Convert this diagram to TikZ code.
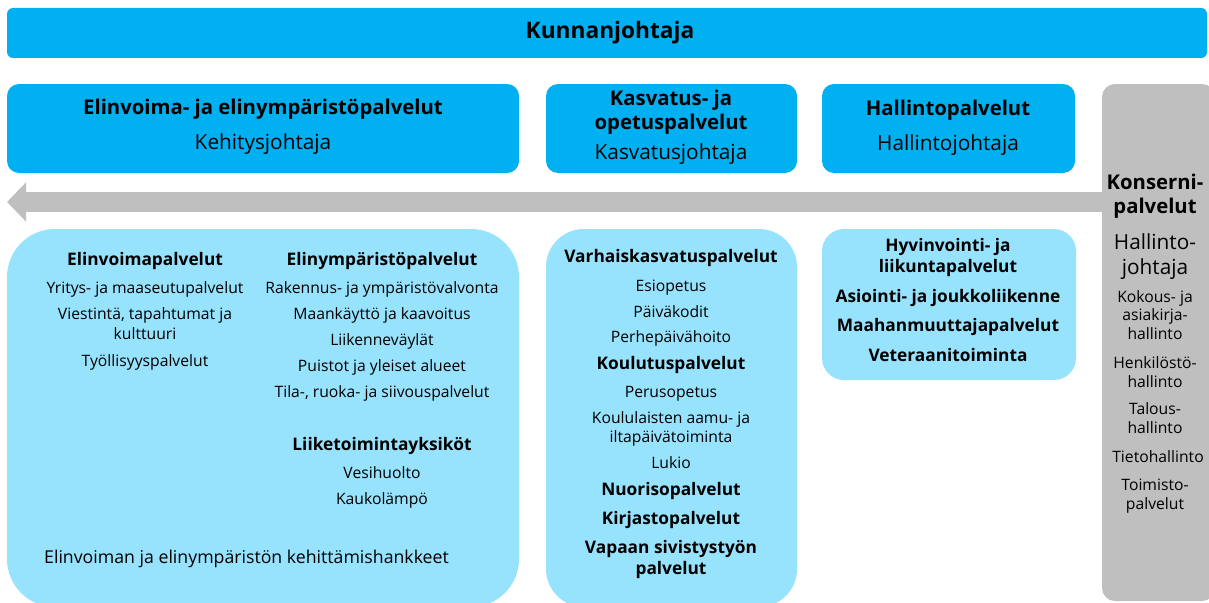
\documentclass[tikz,border=0pt]{standalone}
\usepackage{fontspec}
\setmainfont{Open Sans}
\usetikzlibrary{arrows.meta}
\definecolor{dblue}{HTML}{00B0F0}
\definecolor{lblue}{HTML}{97E2FC}
\definecolor{gbar}{HTML}{BFBFBF}
\begin{document}
\begin{tikzpicture}[x=1pt,y=-1pt,
  box/.style={draw=none,fill=#1,inner sep=0pt,outer sep=0pt},
  txt/.style={align=center,inner sep=0pt,text height=1.08em,text depth=0pt},
  sm/.style={txt,font=\fontsize{15.7}{19}\selectfont},
  smb/.style={txt,font=\fontsize{17.3}{20.5}\selectfont\bfseries},
  big/.style={txt,yshift=-2pt,font=\fontsize{20.8}{25}\selectfont},
  bigb/.style={txt,yshift=-2pt,font=\fontsize{20.3}{24}\selectfont\bfseries},
  graybar/.style={draw=gbar,line width=20pt,-{Triangle[length=19pt,width=38pt]}}
]
\useasboundingbox (0,0) rectangle (1209,602);
\clip (0,0) rectangle (1209,602);
% boxes
\node[box=dblue,rounded corners=6pt,minimum width=1200pt,minimum height=50pt] (top) at (607,33) {};
\node[box=dblue,rounded corners=12pt,minimum width=512pt,minimum height=89pt] (elin) at (263,128.5) {};
\node[box=dblue,rounded corners=12pt,minimum width=251pt,minimum height=89pt] (kasv) at (671.5,128.5) {};
\node[box=dblue,rounded corners=12pt,minimum width=253pt,minimum height=89pt] (hall) at (948.5,128.5) {};
\node[box=gbar,rounded corners=13pt,minimum width=113pt,minimum height=517pt] (kons) at (1158.5,342.5) {};
\node[box=lblue,rounded corners=48pt,minimum width=512pt,minimum height=378pt] (elinL) at (263,418) {};
\node[box=lblue,rounded corners=38pt,minimum width=251pt,minimum height=378pt] (kasvL) at (671.5,418) {};
\node[box=lblue,rounded corners=22pt,minimum width=254pt,minimum height=151pt] (hallL) at (949,304.5) {};
% arrow
\coordinate (tip) at (7,202);
\draw[graybar] (kons.west |- tip) -- (tip);
% top
\node[txt,yshift=-3pt,font=\fontsize{22.7}{26}\selectfont\bfseries] (kj) at (610,30) {Kunnanjohtaja};
% row 2
\node[bigb] (t1) at (263,107) {Elinvoima- ja elinympäristöpalvelut};
\node[big] (t1b) at (263,142) {Kehitysjohtaja};
\node[bigb] (t2) at (671,122) {Kasvatus- ja\\opetuspalvelut};
\node[big] (t2b) at (671,152) {Kasvatusjohtaja};
\node[bigb] (t3) at (948,108) {Hallintopalvelut};
\node[big] (t3b) at (948,143) {Hallintojohtaja};
% konserni
\node[bigb,font=\fontsize{20.3}{23.5}\selectfont\bfseries] (k1) at (1155,206) {Konserni-\\palvelut};
\node[big] (k2) at (1155,267) {Hallinto-\\johtaja};
\node[sm,font=\fontsize{15.7}{18.5}\selectfont] (k3) at (1155,334) {Kokous- ja\\asiakirja-\\hallinto};
\node[sm,font=\fontsize{15.7}{18.5}\selectfont] (k4) at (1155,382) {Henkilöstö-\\hallinto};
\node[sm,font=\fontsize{15.7}{18.5}\selectfont] (k5) at (1155,428) {Talous-\\hallinto};
\node[sm] (k6) at (1158,457) {Tietohallinto};
\node[sm,font=\fontsize{15.7}{18.5}\selectfont] (k7) at (1155,504) {Toimisto-\\palvelut};
% left column
\node[smb] (a1) at (145,260) {Elinvoimapalvelut};
\node[sm] (a2) at (145,288) {Yritys- ja maaseutupalvelut};
\node[sm,font=\fontsize{15.7}{19.5}\selectfont] (a3) at (145,334) {Viestintä, tapahtumat ja\\kulttuuri};
\node[sm] (a4) at (145,361) {Työllisyyspalvelut};
\node[smb] (b1) at (382,260) {Elinympäristöpalvelut};
\node[sm] (b2) at (382,288) {Rakennus- ja ympäristövalvonta};
\node[sm] (b3) at (382,314) {Maankäyttö ja kaavoitus};
\node[sm] (b4) at (382,340) {Liikenneväylät};
\node[sm] (b5) at (382,366) {Puistot ja yleiset alueet};
\node[sm] (b6) at (382,392) {Tila-, ruoka- ja siivouspalvelut};
\node[smb] (b7) at (382,445) {Liiketoimintayksiköt};
\node[sm] (b8) at (382,473) {Vesihuolto};
\node[sm] (b9) at (382,499) {Kaukolämpö};
\node[sm,font=\fontsize{17.7}{20}\selectfont,anchor=west] (c1) at (44,558) {Elinvoiman ja elinympäristön kehittämishankkeet};
% middle column
\node[smb] (m1) at (671,257) {Varhaiskasvatuspalvelut};
\node[sm] (m2) at (671,286) {Esiopetus};
\node[sm] (m3) at (671,312) {Päiväkodit};
\node[sm] (m4) at (671,337) {Perhepäivähoito};
\node[smb] (m5) at (671,364) {Koulutuspalvelut};
\node[sm] (m6) at (671,392) {Perusopetus};
\node[sm,font=\fontsize{15.7}{19}\selectfont] (m7) at (671,437) {Koululaisten aamu- ja\\iltapäivätoiminta};
\node[sm] (m8) at (671,463) {Lukio};
\node[smb] (m9) at (671,490) {Nuorisopalvelut};
\node[smb] (m10) at (671,519) {Kirjastopalvelut};
\node[smb] (m11) at (671,569) {Vapaan sivistystyön\\palvelut};
% right light box
\node[smb] (h1) at (948,267) {Hyvinvointi- ja\\liikuntapalvelut};
\node[smb] (h2) at (948,297) {Asiointi- ja joukkoliikenne};
\node[smb] (h3) at (948,326) {Maahanmuuttajapalvelut};
\node[smb] (h4) at (948,356) {Veteraanitoiminta};
\end{tikzpicture}
\end{document}
